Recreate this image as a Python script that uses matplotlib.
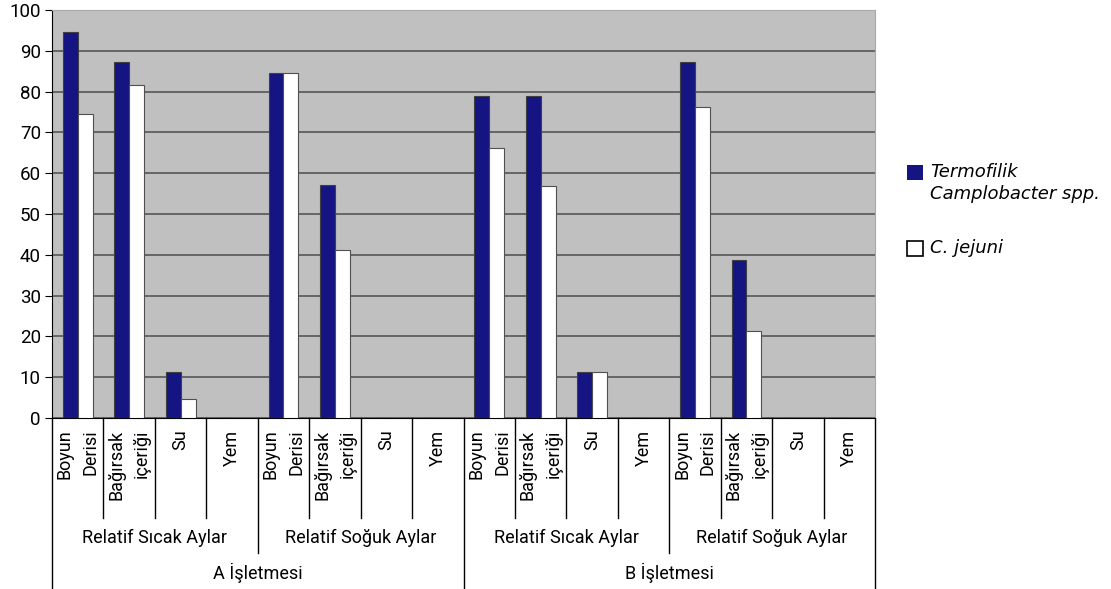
import matplotlib
matplotlib.use('Agg')
import matplotlib.pyplot as plt
from matplotlib.patches import Rectangle
import numpy as np

plt.rcParams['font.family'] = ['Roboto', 'DejaVu Sans']

# veriler
kategoriler = ['Boyun\nDerisi', 'Bağırsak\niçeriği', 'Su', 'Yem'] * 4
mevsimler = ['Relatif Sıcak Aylar', 'Relatif Soğuk Aylar'] * 2
isletmeler = ['A İşletmesi', 'B İşletmesi']
termofilik = [94.7, 87.3, 11.3, 0, 84.6, 57.0, 0, 0,
              78.9, 78.9, 11.3, 0, 87.3, 38.7, 0, 0]
jejuni = [74.4, 81.6, 4.7, 0, 84.5, 41.3, 0, 0,
          66.1, 56.8, 11.3, 0, 76.3, 21.3, 0, 0]
seri_adlari = ['Termofilik\nCamplobacter spp.', 'C. jejuni']

fig = plt.figure(figsize=(11.11, 5.89), dpi=100)
ax = fig.add_axes([0.0468, 0.2903, 0.7408, 0.6927])
ax.set_facecolor('#c0c0c0')

x = np.arange(len(kategoriler))
w = 0.29
ax.bar(x - w / 2, termofilik, w, color='#141482', edgecolor='#404040', lw=0.8, zorder=3)
ax.bar(x + w / 2, jejuni, w, color='white', edgecolor='#505050', lw=0.8, zorder=3)

ax.set_xlim(-0.5, len(kategoriler) - 0.5)
ax.set_ylim(0, 100)
ax.set_yticks(np.arange(0, 101, 10))
ax.yaxis.grid(True, color='#5e5e5e', lw=1.3, zorder=1)
ax.tick_params(axis='y', labelsize=13.5, length=5, pad=3)
ax.set_xticks([])
for s in ['top', 'right']:
    ax.spines[s].set_color('#a8a8a8')
for s in ['left', 'bottom']:
    ax.spines[s].set_color('black')

# cok seviyeli x ekseni
tr = ax.get_xaxis_transform()
for i, lab in enumerate(kategoriler):
    ax.text(i, -0.028, lab, transform=tr, rotation=90, ha='center', va='top',
            multialignment='right', fontsize=13, linespacing=1.55)
for k in range(len(kategoriler) + 1):
    if k % 8 == 0:
        y0 = -0.42
    elif k % 4 == 0:
        y0 = -0.331
    else:
        y0 = -0.245
    ax.plot([k - 0.5, k - 0.5], [0, y0], transform=tr, color='black', lw=1, clip_on=False)
for j, lab in enumerate(mevsimler):
    ax.text(j * 4 + 1.5, -0.294, lab, transform=tr, ha='center', va='center', fontsize=13)
for j, lab in enumerate(isletmeler):
    ax.text(j * 8 + 3.5, -0.38, lab, transform=tr, ha='center', va='center', fontsize=13)

# lejant
fig.add_artist(Rectangle((0.8164, 1 - 180 / 589), 0.0144, 15 / 589, transform=fig.transFigure,
                         facecolor='#141482', edgecolor='none'))
fig.add_artist(Rectangle((0.8164, 1 - 256 / 589), 0.0144, 15 / 589, transform=fig.transFigure,
                         facecolor='white', edgecolor='black', lw=1.2))
fig.text(0.837, 1 - 163 / 589, seri_adlari[0], va='top', ha='left', fontsize=13,
         style='italic', family=['DejaVu Sans'], linespacing=1.3)
fig.text(0.837, 1 - 248 / 589, seri_adlari[1], va='center', ha='left', fontsize=13,
         style='italic', family=['DejaVu Sans'])

fig.savefig('out.png', dpi=100)
